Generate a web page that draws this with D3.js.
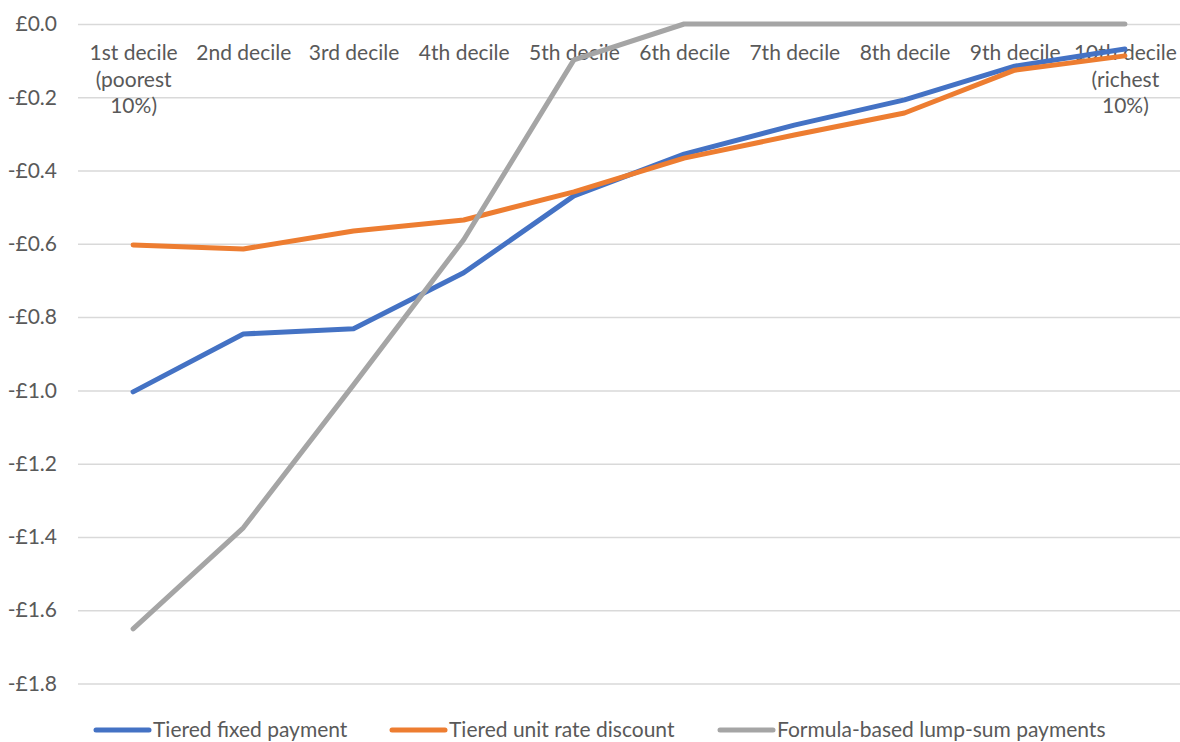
<!DOCTYPE html>
<html>
<head>
<meta charset="utf-8">
<script src="https://cdn.jsdelivr.net/npm/d3@7"></script>
<style>
  html, body { margin: 0; padding: 0; background: #fff; }
  svg { display: block; }
  text { font-family: Lato, "Liberation Sans", sans-serif; fill: #595959; }
</style>
</head>
<body>
<svg id="chart" width="1180" height="742"></svg>
<script>
// ---- data ----
const categories = [
  "1st decile\n(poorest\n10%)", "2nd decile", "3rd decile", "4th decile", "5th decile",
  "6th decile", "7th decile", "8th decile", "9th decile", "10th decile\n(richest\n10%)"
];
const seriesNames = ["Tiered fixed payment", "Tiered unit rate discount", "Formula-based lump-sum payments"];
const tieredFixed    = [-1.004, -0.846, -0.832, -0.679, -0.469, -0.355, -0.276, -0.207, -0.115, -0.068];
const tieredUnitRate = [-0.603, -0.614, -0.565, -0.535, -0.458, -0.366, -0.303, -0.243, -0.126, -0.087];
const formulaLump    = [-1.651, -1.375, -0.985, -0.589, -0.098, 0, 0, 0, 0, 0];
const yTicks = [0, -0.2, -0.4, -0.6, -0.8, -1.0, -1.2, -1.4, -1.6, -1.8];
const colors = ["#4472C4", "#ED7D31", "#A5A5A5"];

// ---- layout ----
const plotL = 78, plotR = 1180, plotT = 24, plotB = 683.5;
const svg = d3.select("#chart");

const x = d3.scalePoint().domain(categories).range([plotL, plotR]).padding(0.5);
const y = d3.scaleLinear().domain([-1.8, 0]).range([plotB, plotT]);

const fs = 21;

// gridlines
const grid = svg.append("g").attr("transform", `translate(${plotL},0)`)
  .call(d3.axisRight(y).tickValues(yTicks).tickSize(plotR - plotL).tickFormat(""));
grid.select(".domain").remove();
grid.selectAll("line").attr("stroke", "#D9D9D9").attr("stroke-width", 1.5);

// y axis labels
const fmt = v => (Math.abs(v) < 1e-9 ? "£0.0" : "-£" + Math.abs(v).toFixed(1));
const yAx = svg.append("g").attr("transform", `translate(${plotL},0)`)
  .call(d3.axisLeft(y).tickValues(yTicks).tickSize(0).tickPadding(21).tickFormat(fmt));
yAx.select(".domain").remove();
yAx.selectAll("text").attr("font-size", fs).attr("font-family", null).style("fill", "#595959");

// x axis labels (at top)
const xAx = svg.append("g").attr("transform", "translate(0,0)")
  .call(d3.axisBottom(x).tickSize(0));
xAx.select(".domain").remove();
xAx.selectAll("text").each(function(d) {
  const t = d3.select(this);
  t.text(null).attr("y", 60).attr("dy", null).attr("font-size", fs)
   .attr("font-family", null).style("fill", "#595959");
  d.split("\n").forEach((ln, i) => {
    t.append("tspan").attr("x", 0).attr("dy", i === 0 ? 0 : 26.5).text(ln);
  });
});

// lines
const allSeries = [tieredFixed, tieredUnitRate, formulaLump];
const line = d3.line().x((d, i) => x(categories[i])).y(d => y(d));
allSeries.forEach((s, k) => {
  svg.append("path").datum(s)
    .attr("d", line)
    .attr("fill", "none")
    .attr("stroke", colors[k])
    .attr("stroke-width", 5)
    .attr("stroke-linecap", "round")
    .attr("stroke-linejoin", "round");
});

// legend
const legX = [96, 392, 720];
const legY = 730;
seriesNames.forEach((n, k) => {
  const g = svg.append("g").attr("transform", `translate(${legX[k]},${legY})`);
  g.append("line").attr("x1", 0).attr("x2", 53).attr("y1", 0).attr("y2", 0)
    .attr("stroke", colors[k]).attr("stroke-width", 5).attr("stroke-linecap", "round");
  g.append("text").attr("x", 57).attr("y", 0).attr("dy", "0.33em")
    .attr("font-size", fs).text(n);
});
</script>
</body>
</html>
